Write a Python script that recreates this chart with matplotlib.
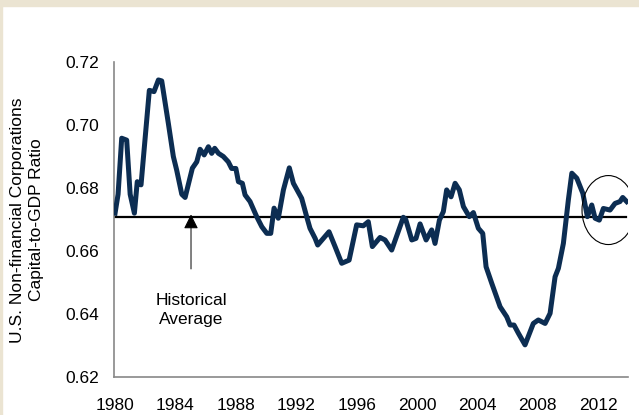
import matplotlib
matplotlib.use("Agg")
import matplotlib.pyplot as plt
from matplotlib.patches import Ellipse, Rectangle

# capital-to-GDP ratio (decimal years)
years = [1980.0, 1980.2, 1980.44, 1980.77, 1981.0, 1981.28, 1981.47, 1981.72,
         1982.27, 1982.58, 1982.87, 1983.09, 1983.53, 1983.86, 1984.08, 1984.42,
         1984.64, 1985.12, 1985.41, 1985.63, 1985.9, 1986.18, 1986.4, 1986.6,
         1986.85, 1987.17, 1987.5, 1987.72, 1988.0, 1988.17, 1988.43, 1988.61,
         1988.94, 1989.38, 1989.72, 1990.05, 1990.31, 1990.53, 1990.81, 1991.15,
         1991.54, 1991.81, 1992.36, 1992.69, 1992.91, 1993.25, 1993.42, 1994.17,
         1994.57, 1995.01, 1995.5, 1996.0, 1996.44, 1996.77, 1997.04, 1997.55,
         1997.88, 1998.32, 1999.09, 1999.25, 1999.65, 1999.93, 2000.2, 2000.6,
         2000.97, 2001.19, 2001.48, 2001.74, 2001.96, 2002.25, 2002.52, 2002.8,
         2003.07, 2003.46, 2003.73, 2004.06, 2004.35, 2004.57, 2004.95, 2005.5,
         2005.94, 2006.16, 2006.42, 2006.71, 2007.15, 2007.7, 2008.03, 2008.48,
         2008.81, 2009.14, 2009.36, 2009.69, 2010.02, 2010.25, 2010.58, 2010.98,
         2011.28, 2011.57, 2011.79, 2012.07, 2012.34, 2012.78, 2013.11, 2013.44,
         2013.62, 2013.88]
ratio = [0.672, 0.678, 0.6958, 0.6952, 0.678, 0.672, 0.682, 0.681,
         0.711, 0.7106, 0.7143, 0.714, 0.7005, 0.690, 0.6857, 0.678,
         0.677, 0.6863, 0.6883, 0.6923, 0.6905, 0.6931, 0.691, 0.6926,
         0.691, 0.690, 0.6883, 0.6862, 0.6862, 0.682, 0.6815, 0.6778,
         0.6757, 0.6709, 0.6677, 0.6656, 0.6656, 0.6736, 0.6704, 0.6794,
         0.6864, 0.6815, 0.6767, 0.6709, 0.6672, 0.664, 0.6619, 0.6661,
         0.6614, 0.6561, 0.6571, 0.6683, 0.668, 0.6693, 0.6614, 0.6643,
         0.6635, 0.6603, 0.6707, 0.670, 0.6635, 0.664, 0.6686, 0.6635,
         0.6667, 0.6624, 0.6698, 0.6725, 0.6794, 0.6772, 0.6815, 0.6794,
         0.6741, 0.6709, 0.6722, 0.6672, 0.6656, 0.655, 0.6497, 0.6423,
         0.6391, 0.6365, 0.6365, 0.6339, 0.6302, 0.637, 0.6381, 0.637,
         0.6402, 0.6518, 0.6545, 0.6624, 0.6762, 0.6847, 0.6831, 0.6783,
         0.6709, 0.6746, 0.6704, 0.6698, 0.6735, 0.673, 0.6751, 0.6757,
         0.677, 0.6757]
hist_avg = 0.6708
x_ticks = [1980, 1984, 1988, 1992, 1996, 2000, 2004, 2008, 2012]
y_ticks = [0.62, 0.64, 0.66, 0.68, 0.70, 0.72]

plt.rcParams['font.family'] = ['Liberation Sans', 'DejaVu Sans']

fig = plt.figure(figsize=(6.39, 4.15), dpi=100)
fig.patch.set_facecolor('white')
# beige frame strips at top and left
fig.patches.append(Rectangle((0, 1 - 6 / 415), 1, 6 / 415, transform=fig.transFigure,
                             color='#ebe4d2', zorder=0))
fig.patches.append(Rectangle((0, 0), 2 / 639, 1, transform=fig.transFigure,
                             color='#ebe4d2', zorder=0))

ax = fig.add_axes([114 / 639, 1 - 377 / 415, 514 / 639, 315 / 415])
ax.plot(years, ratio, color='#0c2d52', linewidth=3.6, solid_joinstyle='round', zorder=3)
ax.axhline(hist_avg, xmax=0.997, color='black', linewidth=1.6, zorder=2)

# circle round the latest values
ax.add_patch(Ellipse((2012.67, 0.673), 3.49, 0.0219, fill=False,
                     edgecolor='black', linewidth=0.8, zorder=4))

# arrow pointing at the average line
ax.annotate('', xy=(1985.03, 0.6716), xytext=(1985.03, 0.6543),
            arrowprops=dict(arrowstyle='-|>', mutation_scale=22, color='black',
                            lw=0.7, shrinkA=0, shrinkB=0))
ax.text(1985.03, 0.6413, 'Historical\nAverage', ha='center', va='center',
        fontsize=12.5, linespacing=1.4)

ax.set_xlim(1979.93, 2013.97)
ax.set_ylim(0.62, 0.72)
ax.set_xticks(x_ticks)
ax.set_xticklabels([str(y) for y in x_ticks])
ax.set_yticks(y_ticks)
ax.set_yticklabels(['%.2f' % v for v in y_ticks])
ax.tick_params(axis='both', length=0, labelsize=12.5)
ax.tick_params(axis='x', pad=15)
ax.tick_params(axis='y', pad=11)
for side in ['top', 'right']:
    ax.spines[side].set_visible(False)
for side in ['left', 'bottom']:
    ax.spines[side].set_color('#888888')
    ax.spines[side].set_linewidth(1.2)

fig.text(27 / 639, 1 - 220 / 415, 'U.S. Non-financial Corporations\nCapital-to-GDP Ratio',
         rotation=90, ha='center', va='center', fontsize=12.5, linespacing=1.4)

fig.savefig('out.png', dpi=100)
